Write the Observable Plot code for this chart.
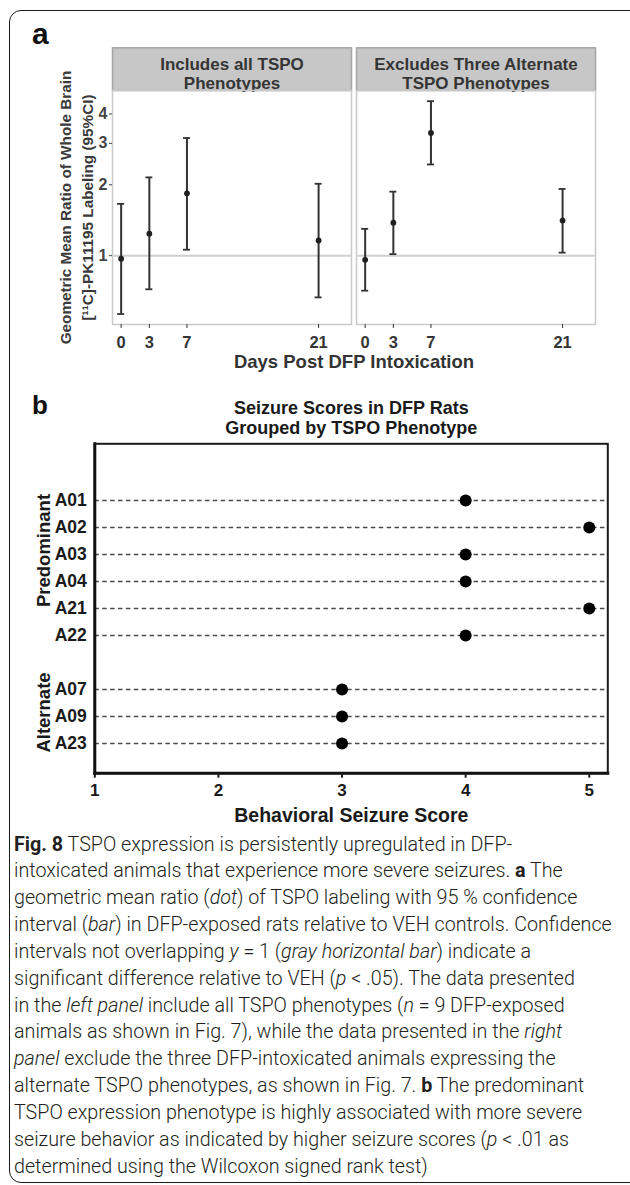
<!DOCTYPE html>
<html>
<head>
<meta charset="utf-8">
<script src="https://cdn.jsdelivr.net/npm/d3@7"></script>
<script src="https://cdn.jsdelivr.net/npm/@observablehq/plot@0.6"></script>
<style>
  html, body { margin: 0; padding: 0; background: #fff; }
  #root { position: relative; width: 630px; height: 1185px; overflow: hidden; font-family: "Liberation Sans", Arial, sans-serif; }
  #box { position: absolute; left: 9px; top: 10px; width: 660px; height: 1173px; border: 1.6px solid #1a1a1a; border-radius: 12px; box-sizing: border-box; }
  .panel-letter { position: absolute; font-weight: bold; color: #111; line-height: 1; }
  #pa { position: absolute; left: 0; top: 0; }
  #pb { position: absolute; left: 0; top: 380px; }
  #xtitleA { position: absolute; left: 354px; top: 351.2px; transform: translateX(-50%); font-weight: bold; font-size: 18.5px; line-height: 21px; color: #333; white-space: nowrap; }
  #cap { position: absolute; left: 14px; top: 831.6px; font-family: "Roboto", "Open Sans", sans-serif; font-weight: 300; font-size: 19.7px; line-height: 26.83px; color: #231f20; white-space: nowrap; }
  #cap b { font-weight: bold; }
</style>
</head>
<body>
<div id="root">
  <div id="box"></div>
  <div class="panel-letter" style="left:32px; top:19px; font-size:30px;">a</div>
  <div class="panel-letter" style="left:32px; top:392px; font-size:26px;">b</div>
  <div id="pa"></div>
  <div id="xtitleA">Days Post DFP Intoxication</div>
  <div id="pb"></div>
  <div id="cap">
    <div><b>Fig. 8</b> TSPO expression is persistently upregulated in DFP-</div>
    <div>intoxicated animals that experience more severe seizures. <b>a</b> The</div>
    <div>geometric mean ratio (<i>dot</i>) of TSPO labeling with 95 % confidence</div>
    <div>interval (<i>bar</i>) in DFP-exposed rats relative to VEH controls. Confidence</div>
    <div>intervals not overlapping <i>y</i> = 1 (<i>gray horizontal bar</i>) indicate a</div>
    <div>significant difference relative to VEH (<i>p</i> &lt; .05). The data presented</div>
    <div>in the <i>left panel</i> include all TSPO phenotypes (<i>n</i> = 9 DFP-exposed</div>
    <div>animals as shown in Fig. 7), while the data presented in the <i>right</i></div>
    <div><i>panel</i> exclude the three DFP-intoxicated animals expressing the</div>
    <div>alternate TSPO phenotypes, as shown in Fig. 7. <b>b</b> The predominant</div>
    <div>TSPO expression phenotype is highly associated with more severe</div>
    <div>seizure behavior as indicated by higher seizure scores (<i>p</i> &lt; .01 as</div>
    <div>determined using the Wilcoxon signed rank test)</div>
  </div>
</div>
<script>
// ---------- Panel a data ----------
const panelKeys = ["all", "excl"];
const panelTitles = ["Includes all TSPO\nPhenotypes", "Excludes Three Alternate\nTSPO Phenotypes"];
const days = [0, 3, 7, 21];
const gmrAll = [0.97, 1.24, 1.84, 1.16];
const loAll  = [0.565, 0.72, 1.06, 0.665];
const hiAll  = [1.66, 2.15, 3.16, 2.02];
const gmrExcl = [0.96, 1.38, 3.32, 1.41];
const loExcl  = [0.71, 1.015, 2.44, 1.03];
const hiExcl  = [1.30, 1.87, 4.53, 1.92];
const yTicksA = [1, 2, 3, 4];
const yTitleA = "Geometric Mean Ratio of Whole Brain\n[\u00B9\u00B9C]-PK11195 Labeling (95%CI)";

// ---------- Panel b data ----------
const predominantIds = ["A01", "A02", "A03", "A04", "A21", "A22"];
const predominantScores = [4, 5, 4, 4, 5, 4];
const alternateIds = ["A07", "A09", "A23"];
const alternateScores = [3, 3, 3];
const groupNames = ["Predominant", "Alternate"];
const xTicksB = [1, 2, 3, 4, 5];
const titleB = "Seizure Scores in DFP Rats\nGrouped by TSPO Phenotype";
const xTitleB = "Behavioral Seizure Score";

// ---------- tables ----------
const dataA = [
  ...days.map((d, i) => ({panel: "all", day: d, gmr: gmrAll[i], lo: loAll[i], hi: hiAll[i]})),
  ...days.map((d, i) => ({panel: "excl", day: d, gmr: gmrExcl[i], lo: loExcl[i], hi: hiExcl[i]}))
];
const headersA = panelKeys.map((k, i) => ({panel: k, label: panelTitles[i]}));

const rowsB = [
  ...predominantIds.map((id, i) => ({id, score: predominantScores[i], group: groupNames[0]})),
  ...alternateIds.map((id, i) => ({id, score: alternateScores[i], group: groupNames[1]}))
];
const groupsB = [
  {name: groupNames[0], rows: predominantIds},
  {name: groupNames[1], rows: alternateIds}
].map(g => ({name: g.name, anchor: g.rows[Math.floor((g.rows.length - 1) / 2)]}));
const yDomainB = [" ", "  ", ...predominantIds, "   ", ...alternateIds, "    "];

// ---------- Panel a ----------
const hA = 380, mTopA = 90, mBotA = 56;
const frameHA = hA - mTopA - mBotA;
const headerH = 42.7;
const grayText = "#353535";

const plotA = Plot.plot({
  width: 630,
  height: hA,
  marginLeft: 112,
  marginRight: 34,
  marginTop: mTopA,
  marginBottom: mBotA,
  style: {fontFamily: "'Liberation Sans', Arial, sans-serif", background: "transparent"},
  fx: {domain: panelKeys, paddingInner: 0.019, paddingOuter: 0, axis: null, label: null},
  x: {domain: [-0.92, 24.5], label: null},
  y: {type: "log", domain: [0.51, 5.03], label: null},
  marks: [
    Plot.frame({fill: "#c7c7c7", stroke: "#a4a4a4", strokeWidth: 1.5, insetBottom: frameHA - headerH, dy: -headerH}),
    Plot.text(headersA, {fx: "panel", text: "label", frameAnchor: "top", lineAnchor: "middle", dy: -17.2, lineHeight: 1.16, fontSize: 17, fontWeight: "bold", fill: grayText}),
    Plot.frame({stroke: "#c9c9c9", strokeWidth: 1.5}),
    Plot.ruleY([1], {stroke: "#d0d0d0", strokeWidth: 2}),
    Plot.ruleX(dataA, {fx: "panel", x: "day", y1: "lo", y2: "hi", stroke: "#333", strokeWidth: 2}),
    Plot.ruleY(dataA, {fx: "panel", x1: "day", x2: "day", y: "hi", insetLeft: -3.5, insetRight: -3.5, stroke: "#333", strokeWidth: 1.8}),
    Plot.ruleY(dataA, {fx: "panel", x1: "day", x2: "day", y: "lo", insetLeft: -3.5, insetRight: -3.5, stroke: "#333", strokeWidth: 1.8}),
    Plot.dot(dataA, {fx: "panel", x: "day", y: "gmr", r: 2.9, fill: "#1f1f1f"}),
    Plot.axisX({ticks: days, tickSize: 4, tickPadding: 8, fontSize: 16.5, fontWeight: "bold", color: grayText, label: null}),
    Plot.axisY({ticks: yTicksA, tickFormat: d => String(d), tickSize: 3, tickPadding: 2, fontSize: 16, fontWeight: "bold", color: "#444", label: null}),
    Plot.text([{panel: panelKeys[0], label: yTitleA}], {fx: "panel", text: "label", frameAnchor: "left", textAnchor: "middle", lineAnchor: "middle", rotate: -90, dx: -38, lineHeight: 1.44, fontSize: 15.3, fontWeight: "bold", fill: "#3a3a3a"})
  ]
});
document.getElementById("pa").appendChild(plotA);

// ---------- Panel b ----------
const plotB = Plot.plot({
  width: 630,
  height: 450,
  marginLeft: 94.3,
  marginRight: 22.7,
  marginTop: 63.3,
  marginBottom: 57.3,
  style: {fontFamily: "'Liberation Sans', Arial, sans-serif", background: "transparent"},
  x: {domain: [1, 5.15], label: null},
  y: {type: "point", domain: yDomainB, padding: 0, label: null},
  marks: [
    Plot.ruleY(rowsB, {y: "id", stroke: "#4a4a4a", strokeWidth: 1.6, strokeDasharray: "4.5,3.4"}),
    Plot.dot(rowsB, {x: "score", y: "id", r: 6, fill: "#000"}),
    Plot.frame({stroke: "#1a1a1a", strokeWidth: 2}),
    Plot.frame({anchor: "left", stroke: "#111", strokeWidth: 3}),
    Plot.frame({anchor: "bottom", stroke: "#111", strokeWidth: 3}),
    Plot.axisX({ticks: xTicksB, tickFormat: "d", tickSize: 5, tickPadding: 6, fontSize: 17, fontWeight: "bold", color: "#1a1a1a", strokeWidth: 2, label: null}),
    Plot.axisY({ticks: rowsB.map(d => d.id), tickSize: 0, tickPadding: 8, fontSize: 17.5, fontWeight: "bold", color: "#1a1a1a", label: null}),
    Plot.text([titleB], {frameAnchor: "top", lineAnchor: "middle", dy: -26.3, lineHeight: 1.11, fontSize: 18, fontWeight: "bold", fill: "#1a1a1a"}),
    Plot.text(groupsB, {y: "anchor", text: "name", frameAnchor: "left", textAnchor: "middle", lineAnchor: "middle", rotate: -90, dx: -50.8, dy: -4, fontSize: 18.5, fontWeight: "bold", fill: "#1a1a1a"}),
    Plot.text([xTitleB], {frameAnchor: "bottom", lineAnchor: "middle", dy: 42.3, fontSize: 19.5, fontWeight: "bold", fill: "#1a1a1a"})
  ]
});
document.getElementById("pb").appendChild(plotB);
</script>
</body>
</html>
